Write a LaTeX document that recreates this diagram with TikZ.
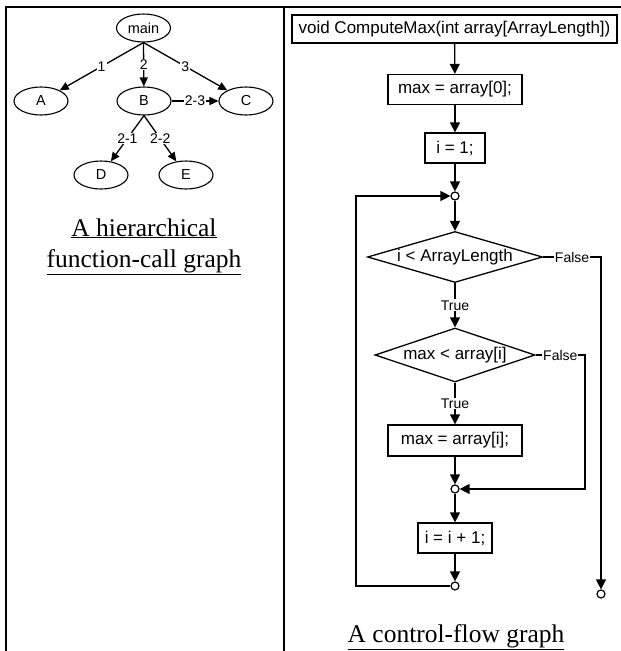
\documentclass[tikz,border=0pt]{standalone}
\usepackage{fontspec}
\setmainfont{Liberation Serif}
\newfontfamily\sansfnt{Liberation Sans}
\usetikzlibrary{arrows.meta,positioning,shapes.geometric}

\begin{document}
\begin{tikzpicture}[
  x=1pt,y=-1pt,
  every node/.style={font=\sansfnt\fontsize{17}{19}\selectfont},
  frame/.style={line width=2pt},
  fnnode/.style={draw,ellipse,line width=1.1pt,minimum width=54pt,minimum height=28pt,
                 inner sep=0pt,font=\sansfnt\fontsize{14.5}{16}\selectfont},
  calledge/.style={-{Triangle[length=9pt,width=8pt]},line width=1.3pt},
  calllabel/.style={fill=white,inner sep=1pt,font=\sansfnt\fontsize{14}{15}\selectfont},
  cfbox/.style={draw,line width=1.3pt,minimum height=30pt,inner sep=3pt},
  cfcond/.style={draw,diamond,line width=1.3pt,aspect=3.4,inner sep=0pt},
  cfjoin/.style={draw,circle,line width=1.2pt,fill=white,minimum size=8pt,inner sep=0pt},
  cfedge/.style={-{Triangle[length=10pt,width=10pt]},line width=1.3pt},
  cflabel/.style={fill=white,inner sep=1pt,font=\sansfnt\fontsize{14}{15}\selectfont},
  capt/.style={anchor=base,inner sep=0pt,font=\rmfamily\fontsize{25.5}{30}\selectfont},
]
  \useasboundingbox (0,0) rectangle (621,651);

  % frame
  \draw[frame] (6,651) -- (6,7) -- (621,7);
  \draw[frame] (284,7) -- (284,651);

  % call graph
  \node[fnnode] (main) at (143.5,28) {main};
  \node[fnnode] (A) at (41,101) {A};
  \node[fnnode] (B) at (144,101) {B};
  \node[fnnode] (C) at (246,101) {C};
  \node[fnnode] (D) at (101,175) {D};
  \node[fnnode] (E) at (186,175) {E};

  \draw[calledge] (main.south) -- node[calllabel] (l1) {1} (A);
  \draw[calledge] (main.south) -- node[calllabel] (l2) {2} (B);
  \draw[calledge] (main.south) -- node[calllabel] (l3) {3} (C);
  \draw[calledge] (B) -- node[calllabel] (l23) {2-3} (C);
  \draw[calledge] (B.south) -- node[calllabel] (l21) {2-1} (D);
  \draw[calledge] (B.south) -- node[calllabel] (l22) {2-2} (E);

  \node[capt] (cgcap1) at (144,236) {\underline{A hierarchical}};
  \node[capt] (cgcap2) at (144,267) {\underline{function-call graph}};

  % control-flow graph
  \node[cfbox,minimum width=325pt,minimum height=28pt] (head) at (454.5,29)
    {void ComputeMax(int array[ArrayLength])};
  \node[cfbox,minimum width=134pt] (init) at (455,89.5) {max = array[0];};
  \node[cfbox,minimum width=60pt] (seti) at (455,148) {i = 1;};
  \node[cfjoin] (j1) at (455,196) {};
  \node[cfcond,minimum width=175pt,minimum height=51pt] (cond1) at (455,257) {i < ArrayLength};
  \node[cfcond,minimum width=160pt,minimum height=54pt] (cond2) at (455,355) {max < array[i]};
  \node[cfbox,minimum width=134pt,minimum height=31pt] (upd) at (455,440.5) {max = array[i];};
  \node[cfjoin] (j2) at (455,489) {};
  \node[cfbox,minimum width=74pt] (incr) at (455,538) {i = i + 1;};
  \node[cfjoin] (j3) at (455,586) {};
  \node[cfjoin] (exit) at (601,594) {};
  \coordinate (skip) at (585,489);
  \coordinate (looptop) at (356,196);

  \draw[cfedge] (head) -- (init);
  \draw[cfedge] (init) -- (seti);
  \draw[cfedge] (seti) -- (j1);
  \draw[cfedge] (j1) -- (cond1);
  \draw[cfedge] (cond1) -- node[cflabel] (t1) {True} (cond2);
  \draw[cfedge] (cond2) -- node[cflabel] (t2) {True} (upd);
  \draw[cfedge] (upd) -- (j2);
  \draw[cfedge] (j2) -- (incr);
  \draw[cfedge] (incr) -- (j3);
  \draw[cfedge] (cond1.east) -- node[cflabel] (f1) {False} (cond1.east -| exit) -- (exit);
  \draw[cfedge] (cond2.east) -- node[cflabel] (f2) {False} (cond2.east -| skip) -- (skip) -- (j2);
  \draw[cfedge] (j3.west) -| (looptop) -- (j1);

  \node[capt] (cfcap) at (456,642) {\underline{A control-flow graph}};
\end{tikzpicture}
\end{document}
